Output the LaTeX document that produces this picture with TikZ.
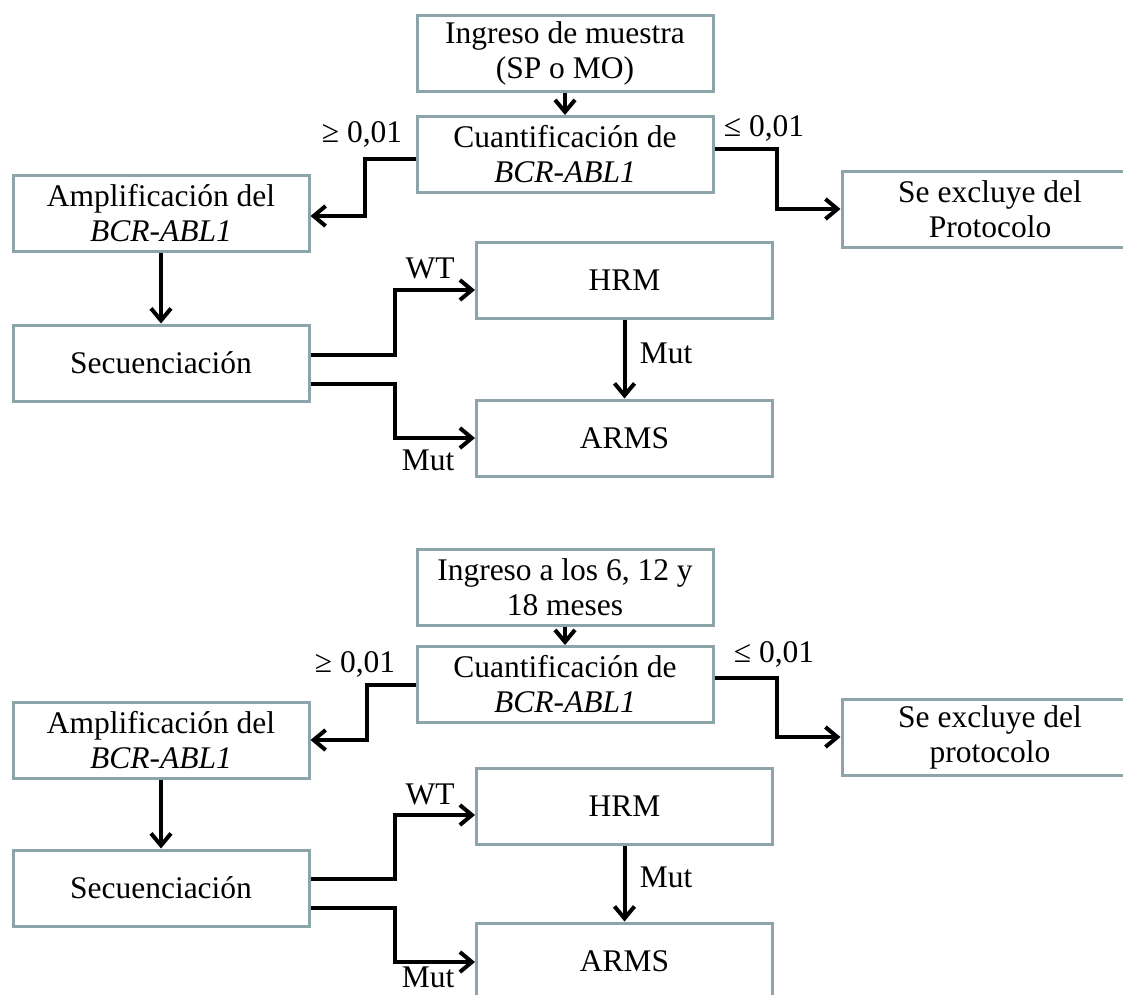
\documentclass[tikz,border=0pt]{standalone}
\usepackage{fontspec}
\setmainfont{Liberation Serif}
\usetikzlibrary{arrows.meta,calc}
\definecolor{bord}{RGB}{140,165,170}
\begin{document}
\begin{tikzpicture}[x=1pt,y=-1pt,
 box/.style={draw=bord,line width=3pt,minimum width=296pt,minimum height=76pt,inner sep=0pt,align=center,font=\fontsize{31.5}{35}\selectfont},
 arr/.style={draw=black,line width=4pt,-{Straight Barb[length=12pt,width=20pt]}},
 lab/.style={inner sep=0pt,font=\fontsize{31.5}{35}\selectfont}]
\useasboundingbox (0,0) rectangle (1123,994);
\clip (0,0) rectangle (1123,994);
% ---------- top diagram ----------
\node[box] (ing1) at (565,53) {Ingreso de muestra\\(SP o MO)};
\node[box] (cua1) at (565,154.5) {Cuantificación de\\\textit{BCR-ABL1}};
\node[box] (amp1) at (161,213) {Amplificación del\\\textit{BCR-ABL1}};
\node[box] (exc1) at (990,209) {Se excluye del\\Protocolo};
\node[box] (sec1) at (161,363) {Secuenciación};
\node[box] (hrm1) at (624.5,280) {HRM};
\node[box] (arm1) at (624.5,438) {ARMS};
\draw[arr] (ing1.south) -- (cua1.north);
\draw[arr] ($(cua1.west)+(0,4)$) -- ++(-51,0) |- ($(amp1.east)+(0,3)$);
\draw[arr] ($(cua1.east)+(0,-6)$) -- ++(62,0) |- (exc1.west);
\draw[arr] (amp1.south) -- (sec1.north);
\draw[arr] ($(sec1.east)+(0,-8)$) -- ++(84,0) |- ($(hrm1.west)+(0,10)$);
\draw[arr] ($(sec1.east)+(0,21)$) -- ++(84,0) |- (arm1.west);
\draw[arr] (hrm1.south) -- (arm1.north);
\node[lab] (l1a) at (362,134) {≥ 0,01};
\node[lab] (l1b) at (764,128) {≤ 0,01};
\node[lab] (l1c) at (430,268) {WT};
\node[lab] (l1d) at (428,460) {Mut};
\node[lab] (l1e) at (666,353) {Mut};
% ---------- bottom diagram ----------
\node[box] (ing2) at (565,587.5) {Ingreso a los 6, 12 y\\18 meses};
\node[box] (cua2) at (565,684.5) {Cuantificación de\\\textit{BCR-ABL1}};
\node[box] (amp2) at (161,740) {Amplificación del\\\textit{BCR-ABL1}};
\node[box] (exc2) at (990,737) {Se excluye del\\protocolo};
\node[box] (sec2) at (161,888) {Secuenciación};
\node[box] (hrm2) at (624.5,806) {HRM};
\node[box] (arm2) at (624.5,961) {ARMS};
\draw[arr] (ing2.south) -- (cua2.north);
\draw[arr] (cua2.west) -- ++(-49,0) |- (amp2.east);
\draw[arr] ($(cua2.east)+(0,-7)$) -- ++(62,0) |- (exc2.west);
\draw[arr] (amp2.south) -- (sec2.north);
\draw[arr] ($(sec2.east)+(0,-9)$) -- ++(84,0) |- ($(hrm2.west)+(0,9)$);
\draw[arr] ($(sec2.east)+(0,20)$) -- ++(84,0) |- ($(arm2.west)+(0,1)$);
\draw[arr] (hrm2.south) -- (arm2.north);
\node[lab] (l2a) at (355,664) {≥ 0,01};
\node[lab] (l2b) at (774,654) {≤ 0,01};
\node[lab] (l2c) at (430,794) {WT};
\node[lab] (l2d) at (428,977) {Mut};
\node[lab] (l2e) at (666,877) {Mut};
\end{tikzpicture}
\end{document}
